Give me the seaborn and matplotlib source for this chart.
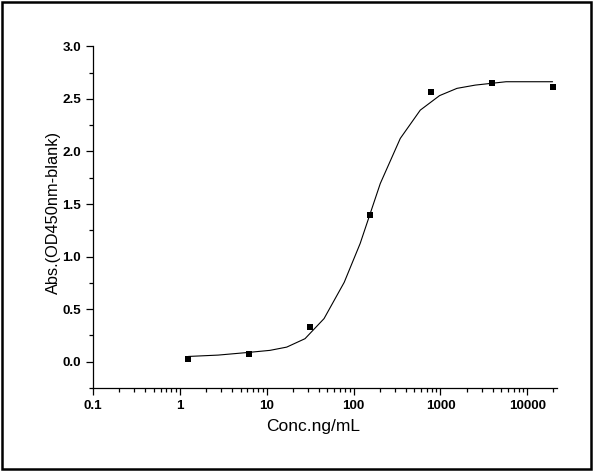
import matplotlib
matplotlib.use("Agg")
import matplotlib.pyplot as plt
import seaborn as sns
import pandas as pd
from matplotlib.patches import Rectangle
from matplotlib.ticker import LogLocator, MultipleLocator, FixedFormatter, FixedLocator, NullFormatter

# ---- data ----
conc = [1.25, 6.25, 31.25, 156.25, 781.25, 3906.25, 19531.25]
absorb = [0.025, 0.076, 0.333, 1.40, 2.565, 2.653, 2.61]

curve_x = [1.25, 2.76, 6.28, 10.9, 17.0, 27.6, 45.7, 78.0, 119.0, 203.0, 345.0,
           586.0, 977.0, 1550.0, 2520.0, 5700.0, 19531.25]
curve_y = [0.050, 0.063, 0.089, 0.108, 0.139, 0.219, 0.41, 0.755, 1.124, 1.695,
           2.124, 2.393, 2.531, 2.60, 2.631, 2.663, 2.663]

xtick_vals = [0.1, 1, 10, 100, 1000, 10000]
xtick_labels = ["0.1", "1", "10", "100", "1000", "10000"]
ytick_vals = [0.0, 0.5, 1.0, 1.5, 2.0, 2.5, 3.0]
ytick_labels = ["0.0", "0.5", "1.0", "1.5", "2.0", "2.5", "3.0"]

x_label = "Conc.ng/mL"
y_label = "Abs.(OD450nm-blank)"

pts = pd.DataFrame({"conc": conc, "abs": absorb})
fit = pd.DataFrame({"conc": curve_x, "abs": curve_y})

sns.set_theme(style="ticks")
plt.rcParams["font.family"] = ["Liberation Sans", "DejaVu Sans"]

W, H = 593, 472
fig = plt.figure(figsize=(W / 100, H / 100), dpi=100)
fig.patch.set_facecolor("white")

ax = fig.add_axes([93 / W, 1 - 388 / H, (556.7 - 93) / W, (388 - 46.3) / H])
ax.set_facecolor("white")
ax.set_xscale("log")

sns.lineplot(data=fit, x="conc", y="abs", ax=ax, color="black", linewidth=0.8,
             sort=False, estimator=None)
sns.scatterplot(data=pts, x="conc", y="abs", ax=ax, marker="s", s=25,
                color="black", edgecolor="black", linewidth=0, zorder=3)

ax.set_xlim(0.1, 21800)
ax.set_ylim(-0.25, 3.0)

ax.xaxis.set_major_locator(FixedLocator(xtick_vals))
ax.xaxis.set_major_formatter(FixedFormatter(xtick_labels))
ax.xaxis.set_minor_locator(LogLocator(base=10, subs=[2, 3, 4, 5, 6, 7, 8, 9], numticks=20))
ax.xaxis.set_minor_formatter(NullFormatter())
ax.yaxis.set_major_locator(FixedLocator(ytick_vals))
ax.yaxis.set_major_formatter(FixedFormatter(ytick_labels))
ax.yaxis.set_minor_locator(MultipleLocator(0.25))

for s in ["top", "right"]:
    ax.spines[s].set_visible(False)
for s in ["left", "bottom"]:
    ax.spines[s].set_linewidth(0.9)
    ax.spines[s].set_color("black")

ax.tick_params(axis="both", which="major", direction="out", length=5, width=0.9,
               color="black", labelsize=9.7, labelcolor="black")
ax.tick_params(axis="both", which="minor", direction="out", length=2.7, width=0.9,
               color="black")
ax.tick_params(axis="x", which="major", pad=3.4)
ax.tick_params(axis="y", which="major", pad=3.6)
for lab in ax.get_xticklabels() + ax.get_yticklabels():
    lab.set_fontweight("bold")

ax.set_xlabel("")
ax.set_ylabel("")
ax.grid(False)

fig.text(313 / W, 1 - 426 / H, x_label, ha="center", va="center", fontsize=12.5,
         color="black")
fig.text(53 / W, 1 - 212.5 / H, y_label, ha="center", va="center", fontsize=11.8,
         rotation=90, color="black")

fig.patches.append(Rectangle((2.2 / W, 1 - 469.2 / H), (591 - 2.2) / W, (469.2 - 2.2) / H,
                             transform=fig.transFigure, fill=False,
                             edgecolor="black", linewidth=1.8))

fig.savefig("out.png", dpi=100, facecolor="white")
